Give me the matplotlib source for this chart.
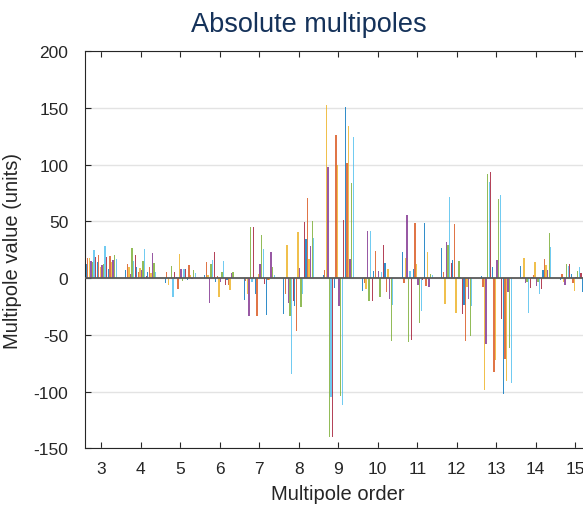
import numpy as np
import matplotlib
matplotlib.use("Agg")
import matplotlib.pyplot as plt

plt.rcParams['font.family'] = ['Liberation Sans', 'DejaVu Sans']
plt.rcParams['axes.unicode_minus'] = False

orders = [3, 4, 5, 6, 7, 8, 9, 10, 11, 12, 13, 14, 15]

# 20 measurement series per multipole order
order_3 = [12.5, 17.6, 18.0, 15.5, 14.6, 24.9, 18.3, 14.2, 20.4, 9.6, 11.3, 12.8, 28.0, 18.9, 8.1, 19.6, 14.2, 16.2, 20.5, 17.0]
order_4 = [7.3, 12.5, 10.2, 3.5, 27.0, 15.4, 20.5, 10.0, 5.7, 9.3, 7.3, 14.9, 25.7, 1.5, 5.7, 9.9, 4.4, 22.1, 13.5, 5.0]
order_5 = [-4.5, 5.7, -5.8, 0.5, 10.8, -16.5, 5.7, 1.0, -9.4, 21.3, 8.1, -2.6, 8.1, 8.4, -1.3, 11.9, 2.5, -1.0, 7.2, 4.4]
order_6 = [3.2, 14.0, 2.5, -22.0, 12.2, 15.8, 23.1, -3.7, 1.6, -16.9, -3.0, 5.7, 15.2, -5.8, -1.7, -6.4, -10.6, 4.4, 5.1, 0.5]
order_7 = [-19.0, -2.9, -14.0, -33.6, 44.8, -3.2, 44.8, -14.0, -33.0, 3.5, 12.2, 38.0, 25.7, -5.3, -32.4, -2.0, -2.0, 22.8, 9.6, 2.5]
order_8 = [-31.3, -14.0, 29.3, -22.3, -33.6, -84.8, -20.0, -24.4, -46.4, 40.5, 9.0, -25.0, -14.0, 49.9, 34.5, 70.4, 17.0, 28.1, 50.4, 35.4]
order_9 = [2.8, 7.2, 152.7, 98.2, -140.0, -105.0, -140.0, -8.9, 126.4, 99.5, -24.8, -103.8, -111.8, 51.2, 150.6, 101.3, 133.8, 16.8, 83.6, 124.3]
order_10 = [-11.5, -4.5, -9.6, 41.6, -20.5, 41.6, -20.0, 6.0, 23.6, 1.0, 6.0, -16.3, 5.0, 29.2, 13.6, -12.5, 8.4, -18.3, -55.3, -23.5]
order_11 = [23.1, -4.7, 17.8, 55.7, -56.5, 6.3, -54.8, 7.8, 48.7, 12.3, -6.2, -39.8, -29.0, -1.5, 48.3, -6.8, 23.1, -8.2, 4.1, 2.6]
order_12 = [26.8, 5.0, -22.6, 31.5, 29.1, 71.2, 13.5, 16.2, 47.5, -30.3, 1.0, 14.8, 1.0, -32.0, -24.0, -55.0, -7.4, -18.5, -51.4, -24.4]
order_13 = [1.8, -8.2, -98.6, -58.1, 91.8, 84.5, 93.9, 9.6, -82.5, -72.2, 15.9, 69.7, 73.2, -35.6, -102.2, -70.9, -90.6, -12.6, -61.7, -92.6]
order_14 = [10.9, 1.0, 17.9, -4.4, -3.2, -30.9, -8.5, 1.0, 2.6, 14.1, -7.3, -3.2, -14.1, -9.7, 7.0, 17.3, 12.0, 7.0, 39.4, 27.9]
order_15 = [-1.5, 4.1, -3.8, -5.9, 12.3, 10.3, 12.9, 4.1, -4.7, -11.2, 1.0, 5.9, 9.7, 4.4, -12.0, 6.0, -4.0, 8.0, 3.0, -5.0]

x_ticks = [3, 4, 5, 6, 7, 8, 9, 10, 11, 12, 13, 14, 15]
y_ticks = [-150, -100, -50, 0, 50, 100, 150, 200]

colors = ['#0072BD', '#D95319', '#EDB120', '#7E2F8E', '#77AC30', '#4DBEEE', '#A2142F']

data = np.array([order_3, order_4, order_5, order_6, order_7, order_8, order_9,
                 order_10, order_11, order_12, order_13, order_14, order_15])
n_series = data.shape[1]

W, H = 583, 506
fig = plt.figure(figsize=(W / 100, H / 100), dpi=100)
ax_left, ax_right = 85 / W, 591.5 / W
ax_bottom, ax_top = (H - 449.3) / H, (H - 52.3) / H
ax = fig.add_axes([ax_left, ax_bottom, ax_right - ax_left, ax_top - ax_bottom])

group_w = 0.8
slot = group_w / n_series
x = np.array(orders, dtype=float)
for k in range(n_series):
    ax.bar(x + (k - (n_series - 1) / 2) * slot, data[:, k], width=slot * 0.85,
           color=colors[k % 7], linewidth=0, alpha=0.8, zorder=2)

ax.axhline(0, color='#5a5a5a', lw=1.3, zorder=3)

ax.set_xlim(2.59, 15.41)
ax.set_ylim(-150, 200)
ax.set_xticks(x_ticks)
ax.set_yticks(y_ticks)
ax.set_yticklabels([str(v) for v in y_ticks])
ax.yaxis.grid(True, color='#e3e3e3', lw=1.0)
ax.set_axisbelow(True)

ax.tick_params(axis='both', direction='in', top=True, right=True, length=4.5,
               width=0.8, colors='#262626', labelsize=12.5)
ax.tick_params(axis='y', pad=12)
ax.tick_params(axis='x', pad=9)
for s in ax.spines.values():
    s.set_color('#262626')
    s.set_linewidth(0.8)

ax.set_xlabel('Multipole order', fontsize=14.5, color='#262626', labelpad=6)
ax.set_ylabel('Multipole value (units)', fontsize=14.5, color='#262626', labelpad=8)

fig.text(308.5 / W, 1 - 32.3 / H, 'Absolute multipoles', fontsize=19.5,
         color='#15325a', ha='center', va='baseline')

fig.savefig('out.png', dpi=100)
